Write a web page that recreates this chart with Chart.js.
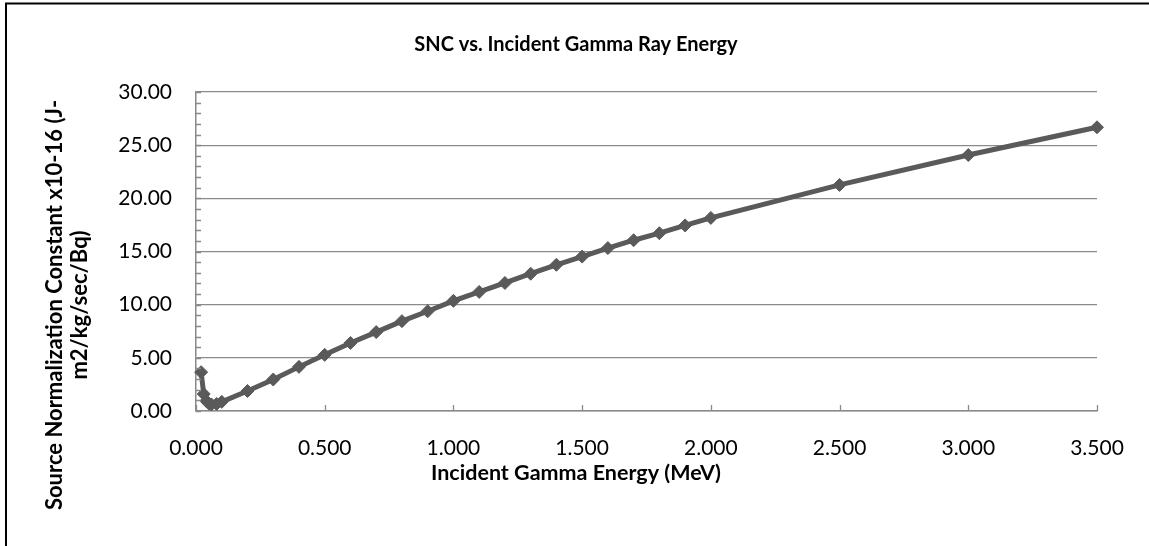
<!DOCTYPE html>
<html><head><meta charset="utf-8">
<script src="https://cdn.jsdelivr.net/npm/chart.js@4/dist/chart.umd.min.js"></script>
<style>html,body{margin:0;padding:0;background:#fff}canvas{display:block}</style>
</head><body>
<canvas id="c" width="1149" height="546"></canvas>
<script>
const chartTitle = 'SNC vs. Incident Gamma Ray Energy';
const xAxisTitle = 'Incident Gamma Energy (MeV)';
const yAxisTitleLines = ['Source Normalization Constant x10-16 (J-', 'm2/kg/sec/Bq)'];
const energies = [0.02, 0.03, 0.04, 0.05, 0.06, 0.08, 0.1, 0.2, 0.3, 0.4, 0.5, 0.6, 0.7, 0.8, 0.9, 1.0, 1.1, 1.2, 1.3, 1.4, 1.5, 1.6, 1.7, 1.8, 1.9, 2.0, 2.5, 3.0, 3.5];
const sncValues = [3.65, 1.6, 0.95, 0.7, 0.62, 0.66, 0.86, 1.88, 2.96, 4.15, 5.28, 6.4, 7.42, 8.45, 9.38, 10.36, 11.2, 12.04, 12.91, 13.75, 14.52, 15.32, 16.06, 16.72, 17.45, 18.16, 21.26, 24.07, 26.68];
const xTickValues = [0, 0.5, 1.0, 1.5, 2.0, 2.5, 3.0, 3.5];
const yTickValues = [0, 5, 10, 15, 20, 25, 30];
const yMinorTickValues = Array.from({length: 31}, (_, i) => i);

const FONT = 'Lato, "Liberation Sans", sans-serif';
const GRID = '#8a8a8a';
const SERIES = '#5a5a5a';

const decor = {
  id: 'decor',
  afterDraw(chart) {
    const ctx = chart.ctx;
    const xs = chart.scales.x, ys = chart.scales.y;
    const area = chart.chartArea;
    ctx.save();
    // inside tick marks: minor ticks on the y axis, major ticks on the x axis
    ctx.strokeStyle = GRID; ctx.lineWidth = 1.3;
    ctx.beginPath();
    yMinorTickValues.forEach(v => {
      const py = Math.round(ys.getPixelForValue(v)) + 0.5;
      ctx.moveTo(area.left, py); ctx.lineTo(area.left + 5, py);
    });
    xTickValues.forEach(v => {
      const px = Math.round(xs.getPixelForValue(v)) + 0.5;
      ctx.moveTo(px, area.bottom); ctx.lineTo(px, area.bottom - 6);
    });
    ctx.stroke();
    // titles
    ctx.fillStyle = '#000';
    ctx.textAlign = 'center'; ctx.textBaseline = 'middle';
    ctx.font = 'bold 20px ' + FONT;
    ctx.fillText(chartTitle, 576, 45);
    ctx.font = 'bold 21.5px ' + FONT;
    ctx.fillText(xAxisTitle, 576, 473);
    ctx.font = 'bold 22px ' + FONT;
    const yc = 305;
    [55, 80].forEach((x, i) => {
      ctx.save();
      ctx.translate(x, yc);
      ctx.rotate(-Math.PI / 2);
      ctx.fillText(yAxisTitleLines[i], 0, 0);
      ctx.restore();
    });
    // outer frame (left and top edges visible)
    ctx.strokeStyle = '#000'; ctx.lineWidth = 2;
    ctx.beginPath();
    ctx.moveTo(6, 546); ctx.lineTo(6, 3.5); ctx.lineTo(1149, 3.5);
    ctx.stroke();
    ctx.restore();
  }
};

new Chart(document.getElementById('c'), {
  type: 'line',
  data: {
    datasets: [{
      data: energies.map((e, i) => ({x: e, y: sncValues[i]})),
      borderColor: SERIES, backgroundColor: SERIES, borderWidth: 5,
      pointStyle: 'rectRot', pointRadius: 6.5, pointBorderWidth: 1,
      pointBorderColor: SERIES, pointBackgroundColor: SERIES, tension: 0, clip: false
    }]
  },
  options: {
    responsive: false, animation: false,
    layout: {padding: {top: 92, right: 52, bottom: 0, left: 0}},
    plugins: {legend: {display: false}, title: {display: false}, tooltip: {enabled: false}},
    scales: {
      x: {
        type: 'linear', min: 0, max: 3.5,
        afterBuildTicks: s => { s.ticks = xTickValues.map(v => ({value: v})); },
        afterFit: s => { s.height = 135; },
        grid: {display: false, drawTicks: false},
        border: {display: true, color: GRID, width: 1.5},
        ticks: {padding: 25, color: '#000', font: {family: FONT, size: 21}, maxRotation: 0, autoSkip: false,
                callback: v => Number(v).toFixed(3)}
      },
      y: {
        type: 'linear', min: 0, max: 30,
        afterBuildTicks: s => { s.ticks = yTickValues.map(v => ({value: v})); },
        afterFit: s => { s.width = 196; },
        grid: {color: GRID, lineWidth: 1.3, drawTicks: false},
        border: {display: true, color: GRID, width: 1.5},
        ticks: {padding: 24, color: '#000', font: {family: FONT, size: 21},
                callback: v => Number(v).toFixed(2)}
      }
    }
  },
  plugins: [decor]
});
</script>
</body></html>
